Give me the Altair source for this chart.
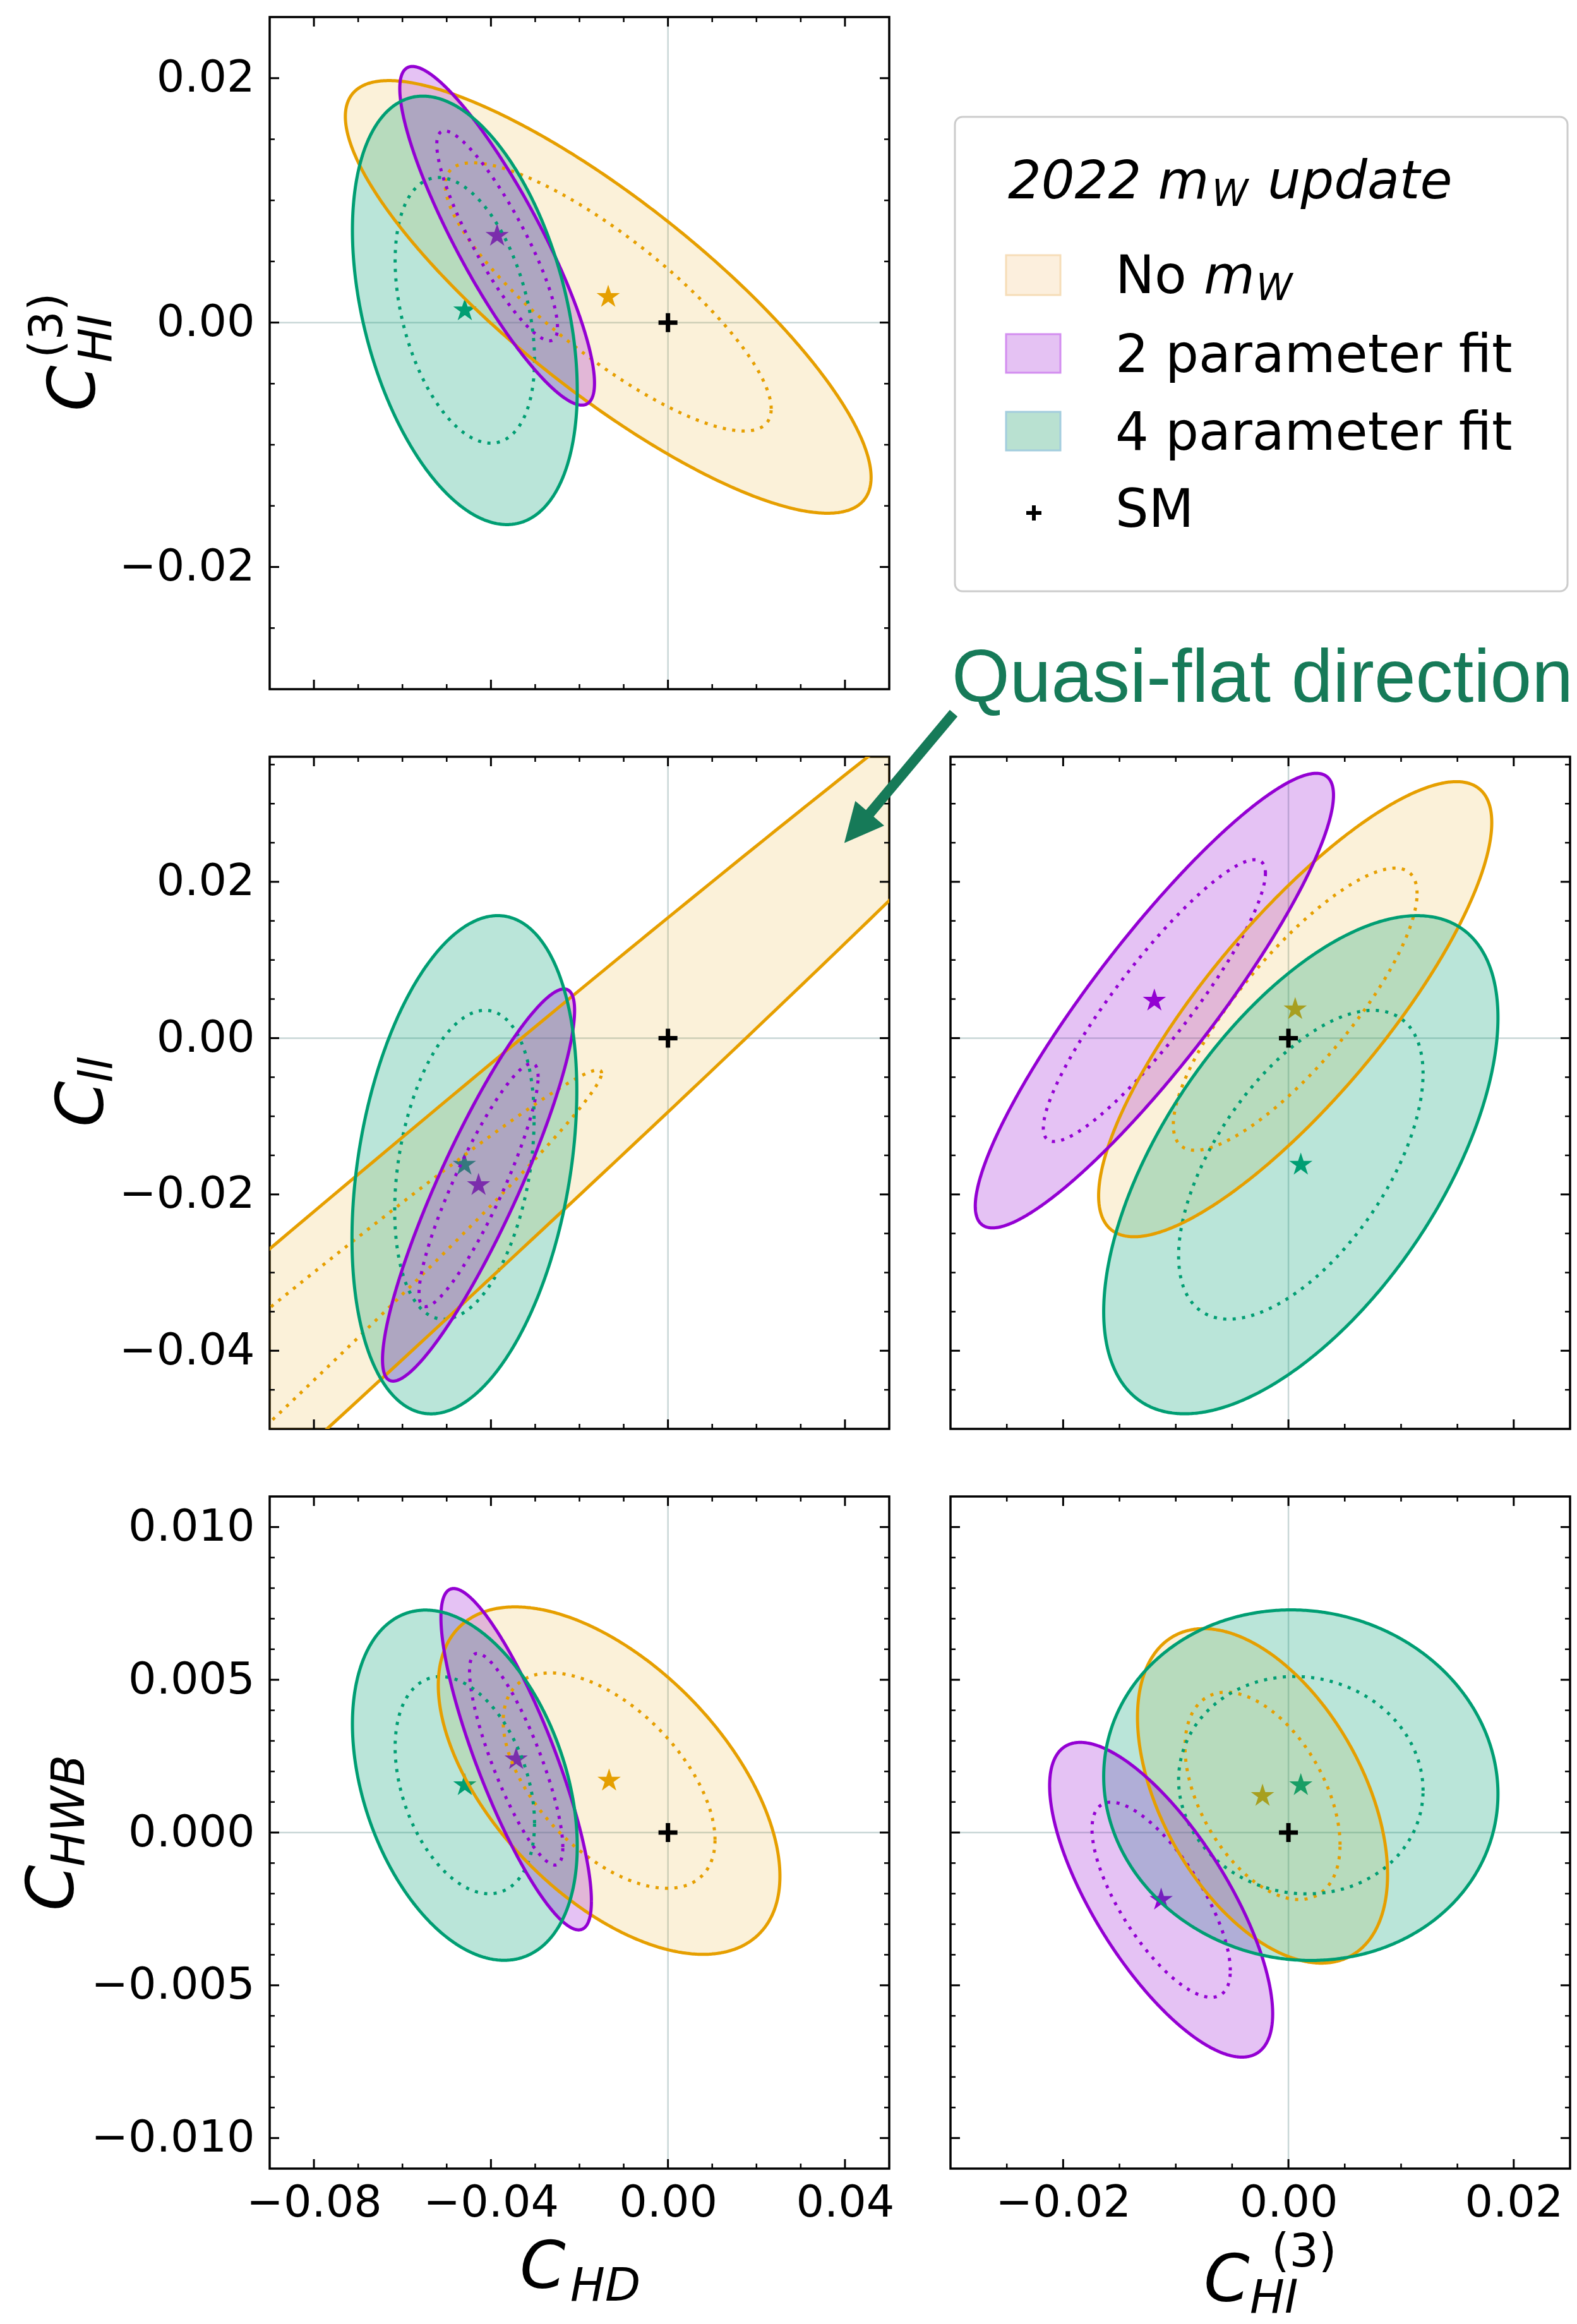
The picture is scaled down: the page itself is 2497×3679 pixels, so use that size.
import numpy as np
import pandas as pd
import altair as alt

# ---------------- data ----------------
FITS = ["No m_W", "2 parameter fit", "4 parameter fit"]
LINE_COLORS = ["#E69F00", "#9400D3", "#009E73"]
FILL_ALPHA = [0.15, 0.24, 0.27]

# panel order: (x variable, y variable)
PANEL_AXES = [("HD", "HI3"), ("HD", "ll"), ("HI3", "ll"), ("HD", "HWB"), ("HI3", "HWB")]

# ellipse (95% contour) per fit, one entry per panel:
# centre x, centre y, half extent along x, slope of conjugate diameter, half thickness at centre
NOMW_CX = [-0.0135, -0.263, 0.0006, -0.0133, -0.0023]
NOMW_CY = [0.0021, -0.128, 0.0037, 0.0017, 0.0012]
NOMW_HX = [0.0594, 0.400, 0.01745, 0.0386, 0.0111]
NOMW_SLOPE = [-0.2485, 0.498, 1.368, -0.081, -0.232]
NOMW_HW = [0.00977, 0.0165, 0.01667, 0.00475, 0.00483]

TWO_CX = [-0.0386, -0.0428, -0.0119, -0.0343, -0.0113]
TWO_CY = [0.0071, -0.0188, 0.0048, 0.0024, -0.0022]
TWO_HX = [0.0220, 0.0217, 0.0159, 0.0170, 0.0099]
TWO_SLOPE = [-0.548, 1.029, 1.653, -0.273, -0.377]
TWO_HW = [0.00683, 0.01144, 0.01245, 0.00311, 0.00355]

FOUR_CX = [-0.0459, -0.0460, 0.0011, -0.0459, 0.0011]
FOUR_CY = [0.0010, -0.0162, -0.0162, 0.00155, 0.00155]
FOUR_HX = [0.0254, 0.0254, 0.0175, 0.0254, 0.0175]
FOUR_SLOPE = [-0.258, 0.372, 1.0745, -0.0789, -0.0164]
FOUR_HW = [0.01626, 0.03044, 0.02573, 0.00537, 0.00573]

INNER_SCALE = 0.62  # 68% contour relative to 95% contour

SM_X = [0.0]
SM_Y = [0.0]

DOMAIN = {"HD": [-0.09, 0.05], "HI3": [-0.03, 0.025], "ll": [-0.05, 0.036], "HWB": [-0.011, 0.011]}
MAJOR = {
    "HD": [-0.08, -0.04, 0.0, 0.04],
    "HI3": [-0.02, 0.0, 0.02],
    "ll": [-0.04, -0.02, 0.0, 0.02],
    "HWB": [-0.01, -0.005, 0.0, 0.005, 0.01],
}
MINOR = {
    "HD": [-0.07, -0.06, -0.05, -0.03, -0.02, -0.01, 0.01, 0.02, 0.03],
    "HI3": [-0.025, -0.015, -0.01, -0.005, 0.005, 0.01, 0.015],
    "ll": [-0.045, -0.035, -0.03, -0.025, -0.015, -0.01, -0.005, 0.005, 0.01, 0.015, 0.025, 0.03, 0.035],
    "HWB": [-0.009, -0.008, -0.007, -0.006, -0.004, -0.003, -0.002, -0.001,
            0.001, 0.002, 0.003, 0.004, 0.006, 0.007, 0.008, 0.009],
}
FMT = {"HD": ".2f", "HI3": ".2f", "ll": ".2f", "HWB": ".3f"}

LEGEND_TITLE = ["2022 m", "W", "update"]
LEGEND_LABELS = ["No", "2 parameter fit", "4 parameter fit", "SM"]
LEGEND_FILLS = ["#FCEFDD", "#E5C2F3", "#B9E1D1"]
LEGEND_EDGES = ["#F6DDB8", "#D38DF0", "#A3CDDE"]

ANNOTATION = "Quasi-flat direction"

# ---------------- helpers ----------------
W, H = 981, 1064
ONE = pd.DataFrame({"k": [0]})
STAR = ("M0,-1L0.2245,-0.309L0.9511,-0.309L0.3633,0.118L0.5878,0.809L0,0.382"
        "L-0.5878,0.809L-0.3633,0.118L-0.9511,-0.309L-0.2245,-0.309Z")
CROSS = "M-1,0L1,0M0,-1L0,1"
HEAD = "M0,-1L0.97,1L-0.97,1Z"
FONT = "DejaVu Sans"

PARAMS = [
    (NOMW_CX, NOMW_CY, NOMW_HX, NOMW_SLOPE, NOMW_HW),
    (TWO_CX, TWO_CY, TWO_HX, TWO_SLOPE, TWO_HW),
    (FOUR_CX, FOUR_CY, FOUR_HX, FOUR_SLOPE, FOUR_HW),
]


def outline(p, k, scale, n=720):
    cx, cy, hx, sl, hw = (a[p] for a in PARAMS[k])
    t = np.linspace(0, 2 * np.pi, n)
    dx = scale * hx * np.cos(t)
    return pd.DataFrame({"fit": FITS[k], "i": np.arange(n),
                         "x": np.round(cx + dx, 6),
                         "y": np.round(cy + sl * dx + scale * hw * np.sin(t), 6)})


def fill(p, k, n=500):
    cx, cy, hx, sl, hw = (a[p] for a in PARAMS[k])
    t = np.linspace(0, np.pi, n)
    dx = hx * np.cos(t)
    mid = cy + sl * dx
    return pd.DataFrame({"x": np.round(cx + dx, 6),
                         "lo": np.round(mid - hw * np.sin(t), 6),
                         "hi": np.round(mid + hw * np.sin(t), 6)})


def txt(text, x, y, size, italic=True, angle=0, color="black", font=FONT):
    kw = dict(text=text, align="left", baseline="alphabetic", font=font,
              fontSize=size, fontStyle="italic" if italic else "normal", color=color)
    if angle:
        kw["angle"] = angle
    return alt.Chart(ONE).mark_text(**kw).encode(x=alt.value(x), y=alt.value(y))


def panel(p, show_x, show_y, extra):
    xv, yv = PANEL_AXES[p]
    xs = alt.Scale(domain=DOMAIN[xv], nice=False, zero=False)
    ys = alt.Scale(domain=DOMAIN[yv], nice=False, zero=False)
    common = dict(ticks=False, tickSize=0, domain=False, grid=False, labelFontSize=70,
                  labelFont=FONT, labelColor="black", labelFlush=False, labelLimit=1000,
                  labelOverlap=False, labelBound=False, title=None)
    ax = alt.Axis(values=MAJOR[xv], format=FMT[xv], labelPadding=20, **common) if show_x else None
    ay = alt.Axis(values=MAJOR[yv], format=FMT[yv], labelPadding=24, **common) if show_y else None

    def X(f):
        return alt.X(f, type="quantitative", scale=xs, axis=ax)

    def Y(f):
        return alt.Y(f, type="quantitative", scale=ys, axis=ay)

    cs = alt.Scale(domain=FITS, range=LINE_COLORS)
    layers = []
    zero = pd.DataFrame({"v": [0.0]})
    layers.append(alt.Chart(zero).mark_rule(color="#c9d7d7", strokeWidth=2.5).encode(x=X("v")))
    layers.append(alt.Chart(zero).mark_rule(color="#c9d7d7", strokeWidth=2.5).encode(y=Y("v")))

    stars = pd.DataFrame({"fit": FITS,
                          "x": [PARAMS[k][0][p] for k in range(3)],
                          "y": [PARAMS[k][1][p] for k in range(3)]})
    layers.append(alt.Chart(stars).mark_point(shape=STAR, filled=True, size=1500, opacity=1,
                                              clip=True)
                  .encode(x=X("x"), y=Y("y"),
                          color=alt.Color("fit:N", scale=cs, legend=None)))
    for k in [0, 2, 1]:
        layers.append(alt.Chart(fill(p, k)).mark_area(color=LINE_COLORS[k], opacity=FILL_ALPHA[k],
                                                       clip=True)
                      .encode(x=X("x"), y=Y("lo"), y2=alt.Y2("hi")))
    inner = pd.concat([outline(p, k, INNER_SCALE) for k in range(3)])
    outer = pd.concat([outline(p, k, 1.0) for k in range(3)])
    layers.append(alt.Chart(inner).mark_line(strokeWidth=5, strokeDash=[5, 10], clip=True)
                  .encode(x=X("x"), y=Y("y"), color=alt.Color("fit:N", scale=cs, legend=None),
                          detail="fit:N", order=alt.Order("i:Q")))
    layers.append(alt.Chart(outer).mark_line(strokeWidth=5, clip=True, strokeJoin="round")
                  .encode(x=X("x"), y=Y("y"), color=alt.Color("fit:N", scale=cs, legend=None),
                          detail="fit:N", order=alt.Order("i:Q")))
    sm = pd.DataFrame({"x": SM_X, "y": SM_Y})
    layers.append(alt.Chart(sm).mark_point(shape=CROSS, filled=False, size=900, strokeWidth=7,
                                           color="black", opacity=1)
                  .encode(x=X("x"), y=Y("y")))

    # inward ticks on all four sides
    for vals, ln, sw in [(MAJOR[xv], 15, 3), (MINOR[xv], 8, 2.5)]:
        d = pd.DataFrame({"v": vals})
        layers.append(alt.Chart(d).mark_rule(color="black", strokeWidth=sw)
                      .encode(x=X("v"), y=alt.value(H), y2=alt.value(H - ln)))
        layers.append(alt.Chart(d).mark_rule(color="black", strokeWidth=sw)
                      .encode(x=X("v"), y=alt.value(0), y2=alt.value(ln)))
    for vals, ln, sw in [(MAJOR[yv], 15, 3), (MINOR[yv], 8, 2.5)]:
        d = pd.DataFrame({"v": vals})
        layers.append(alt.Chart(d).mark_rule(color="black", strokeWidth=sw)
                      .encode(y=Y("v"), x=alt.value(0), x2=alt.value(ln)))
        layers.append(alt.Chart(d).mark_rule(color="black", strokeWidth=sw)
                      .encode(y=Y("v"), x=alt.value(W), x2=alt.value(W - ln)))
    layers.extend(extra)
    return alt.layer(*layers).properties(
        width=W, height=H, view=alt.ViewBackground(stroke="black", strokeWidth=3.5))


# ---------------- axis titles & annotations ----------------
anchor = alt.Chart(ONE).mark_point(opacity=0, size=1).encode(x=alt.value(-424), y=alt.value(-24))

t_row1 = [txt("C", -277, 624, 104, angle=270), txt("HI", -251, 547, 73, angle=270),
          txt("(3)", -329, 540, 73, italic=False, angle=270)]
t_row2 = [txt("C", -264, 586, 104, angle=270), txt("ll", -249, 516, 73, angle=270)]
t_row3 = [txt("C", -311, 656, 104, angle=270), txt("HWB", -294, 586, 73, angle=270)]
t_bl = [txt("C", 396, 1253, 104), txt("HD", 476, 1273, 73)]
t_br = [txt("C", 401, 1274, 104), txt("HI", 474, 1292, 73), txt("(3)", 508, 1219, 73, italic=False)]

ARROW_COLOR = "#167a58"
arrow = [
    txt(ANNOTATION, 1080, -87, 118, italic=False, color=ARROW_COLOR, font="Liberation Sans"),
    alt.Chart(ONE).mark_rule(color=ARROW_COLOR, strokeWidth=16)
    .encode(x=alt.value(1083), y=alt.value(-69), x2=alt.value(944), y2=alt.value(97)),
    alt.Chart(ONE).mark_point(shape=HEAD, filled=True, size=3844, angle=220.5,
                              color=ARROW_COLOR, opacity=1)
    .encode(x=alt.value(930), y=alt.value(113)),
]

p1 = panel(0, False, True, t_row1 + [anchor])
p3 = panel(1, False, True, t_row2 + arrow)
p4 = panel(2, False, False, [])
p5 = panel(3, True, True, t_row3 + t_bl)
p6 = panel(4, True, False, t_br)

# ---------------- legend ----------------
leg_layers = [
    alt.Chart(ONE).mark_rect(fill="white", stroke="#cccccc", strokeWidth=3, cornerRadius=12)
    .encode(x=alt.value(7), x2=alt.value(977), y=alt.value(158), y2=alt.value(909)),
    txt(LEGEND_TITLE[0], 91, 287, 83),
    txt(LEGEND_TITLE[1], 414, 299, 58),
    txt(LEGEND_TITLE[2], 502, 287, 83),
]
sw_y = [(377, 440), (502, 563), (625, 686)]
base_y = [437, 562, 685, 807]
for k in range(3):
    leg_layers.append(
        alt.Chart(ONE).mark_rect(fill=LEGEND_FILLS[k], stroke=LEGEND_EDGES[k], strokeWidth=3)
        .encode(x=alt.value(88), x2=alt.value(174), y=alt.value(sw_y[k][0]), y2=alt.value(sw_y[k][1])))
for k in range(4):
    leg_layers.append(txt(LEGEND_LABELS[k], 261, base_y[k], 83, italic=False))
leg_layers.append(txt("m", 401, base_y[0], 83))
leg_layers.append(txt("W", 484, base_y[0] + 11, 58))
leg_layers.append(alt.Chart(ONE).mark_point(shape=CROSS, filled=False, size=576, strokeWidth=6,
                                            color="black", opacity=1)
                  .encode(x=alt.value(132), y=alt.value(785)))
legend = alt.layer(*leg_layers).properties(
    width=982, height=H, view=alt.ViewBackground(stroke="transparent", strokeWidth=0))

chart = alt.concat(p1, legend, p3, p4, p5, p6, columns=2,
                   spacing={"row": 107, "column": 97}, bounds="flush").properties(padding=0)

chart.save("out.html", embed_options={"renderer": "svg", "actions": False})
